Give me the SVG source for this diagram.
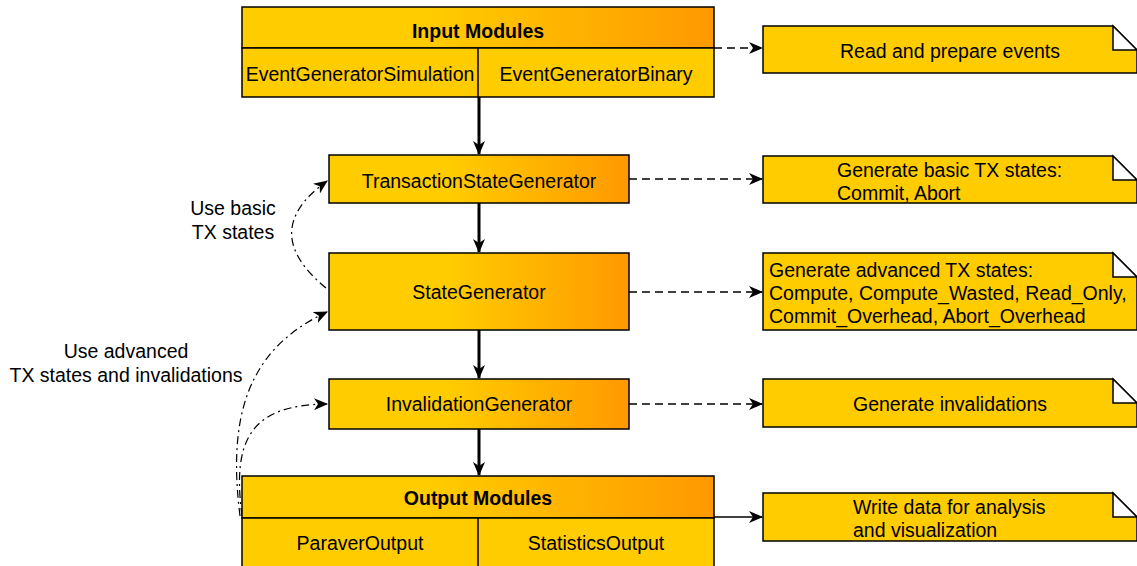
<svg xmlns="http://www.w3.org/2000/svg" width="1137" height="566" viewBox="0 0 1137 566">
<defs>
<linearGradient id="g" x1="0" y1="0" x2="1" y2="0">
<stop offset="0" stop-color="#ffcc00"/>
<stop offset="0.4" stop-color="#ffcc00"/>
<stop offset="1" stop-color="#ff9900"/>
</linearGradient>
<marker id="ah" markerWidth="14" markerHeight="12" refX="13" refY="6" orient="auto" markerUnits="userSpaceOnUse">
<path d="M0,0 L14,6 L0,12 L4,6 Z" fill="#000"/>
</marker>
<style>
text{font-family:"Liberation Sans",Arial,sans-serif;font-size:19.5px;fill:#000}
.b{font-weight:bold}
.m{text-anchor:middle}
.box{stroke:#000;stroke-width:1.5}
.note{fill:#ffcc00;stroke:#000;stroke-width:1.5}
.fold{fill:#fff;stroke:#000;stroke-width:1.5}
.thick{stroke:#000;stroke-width:3;fill:none}
.dash{stroke:#000;stroke-width:1.5;fill:none;stroke-dasharray:8 5}
.dd{stroke:#000;stroke-width:1.2;fill:none;stroke-dasharray:8 4 2 4}
.sol{stroke:#000;stroke-width:1.5;fill:none}
</style>
</defs>

<g id="connectors">
<line class="thick" x1="479" y1="97" x2="479" y2="154" marker-end="url(#ah)"/>
<line class="thick" x1="479" y1="203" x2="479" y2="252" marker-end="url(#ah)"/>
<line class="thick" x1="479" y1="330" x2="479" y2="378" marker-end="url(#ah)"/>
<line class="thick" x1="479" y1="429" x2="479" y2="475" marker-end="url(#ah)"/>
<line class="dash" x1="714" y1="48" x2="762" y2="48" marker-end="url(#ah)"/>
<line class="dash" x1="629" y1="179" x2="762" y2="179" marker-end="url(#ah)"/>
<line class="dash" x1="629" y1="292" x2="762" y2="292" marker-end="url(#ah)"/>
<line class="dash" x1="629" y1="404" x2="762" y2="404" marker-end="url(#ah)"/>
<line class="sol" x1="714" y1="517" x2="762" y2="517" marker-end="url(#ah)"/>
<path class="dd" d="M 326 288 C 280 250, 280 215, 327 181" marker-end="url(#ah)"/>
<path class="dd" d="M 240 516 C 228 420, 245 350, 327 312" marker-end="url(#ah)"/>
<path class="dd" d="M 242 516 C 232 440, 250 405, 327 404" marker-end="url(#ah)"/>
</g>

<g id="input-modules">
<rect class="box" x="242" y="7" width="472" height="41" fill="url(#g)"/>
<rect class="box" x="242" y="48" width="472" height="49" fill="#ffcc00"/>
<line class="sol" x1="478" y1="48" x2="478" y2="97"/>
<text class="b m" x="478" y="38">Input Modules</text>
<text class="m" x="360" y="81">EventGeneratorSimulation</text>
<text class="m" x="596" y="81">EventGeneratorBinary</text>
</g>

<g id="transaction-state-generator">
<rect class="box" x="329" y="155" width="300" height="48" fill="url(#g)"/>
<text class="m" x="479" y="188">TransactionStateGenerator</text>
</g>

<g id="state-generator">
<rect class="box" x="329" y="253" width="300" height="77" fill="url(#g)"/>
<text class="m" x="479" y="299">StateGenerator</text>
</g>

<g id="invalidation-generator">
<rect class="box" x="329" y="379" width="300" height="50" fill="url(#g)"/>
<text class="m" x="479" y="411">InvalidationGenerator</text>
</g>

<g id="output-modules">
<rect class="box" x="242" y="476" width="472" height="42" fill="url(#g)"/>
<rect class="box" x="242" y="518" width="472" height="50" fill="#ffcc00"/>
<line class="sol" x1="478" y1="518" x2="478" y2="566"/>
<text class="b m" x="478" y="505">Output Modules</text>
<text class="m" x="360" y="550">ParaverOutput</text>
<text class="m" x="596" y="550">StatisticsOutput</text>
</g>

<g id="label-basic">
<text class="m" x="233" y="215">Use basic</text>
<text class="m" x="233" y="239">TX states</text>
</g>
<g id="label-advanced">
<text class="m" x="126" y="358">Use advanced</text>
<text class="m" x="126" y="382">TX states and invalidations</text>
</g>

<g id="note-read">
<path class="note" d="M763,26 H1113 L1137,50 V73 H763 Z"/>
<path class="fold" d="M1113,26 V50 H1137 Z"/>
<text class="m" x="950" y="58">Read and prepare events</text>
</g>

<g id="note-basic">
<path class="note" d="M763,156 H1113 L1137,180 V203 H763 Z"/>
<path class="fold" d="M1113,156 V180 H1137 Z"/>
<text x="837" y="177">Generate basic TX states:</text>
<text x="837" y="200">Commit, Abort</text>
</g>

<g id="note-advanced">
<path class="note" d="M763,253 H1113 L1137,277 V330 H763 Z"/>
<path class="fold" d="M1113,253 V277 H1137 Z"/>
<text x="769" y="277">Generate advanced TX states:</text>
<text x="769" y="300">Compute, Compute_Wasted, Read_Only,</text>
<text x="769" y="323">Commit_Overhead, Abort_Overhead</text>
</g>

<g id="note-invalidations">
<path class="note" d="M763,379 H1113 L1137,403 V427 H763 Z"/>
<path class="fold" d="M1113,379 V403 H1137 Z"/>
<text class="m" x="950" y="411">Generate invalidations</text>
</g>

<g id="note-write">
<path class="note" d="M763,493 H1113 L1137,517 V541 H763 Z"/>
<path class="fold" d="M1113,493 V517 H1137 Z"/>
<text x="853" y="514">Write data for analysis</text>
<text x="853" y="537">and visualization</text>
</g>
</svg>
